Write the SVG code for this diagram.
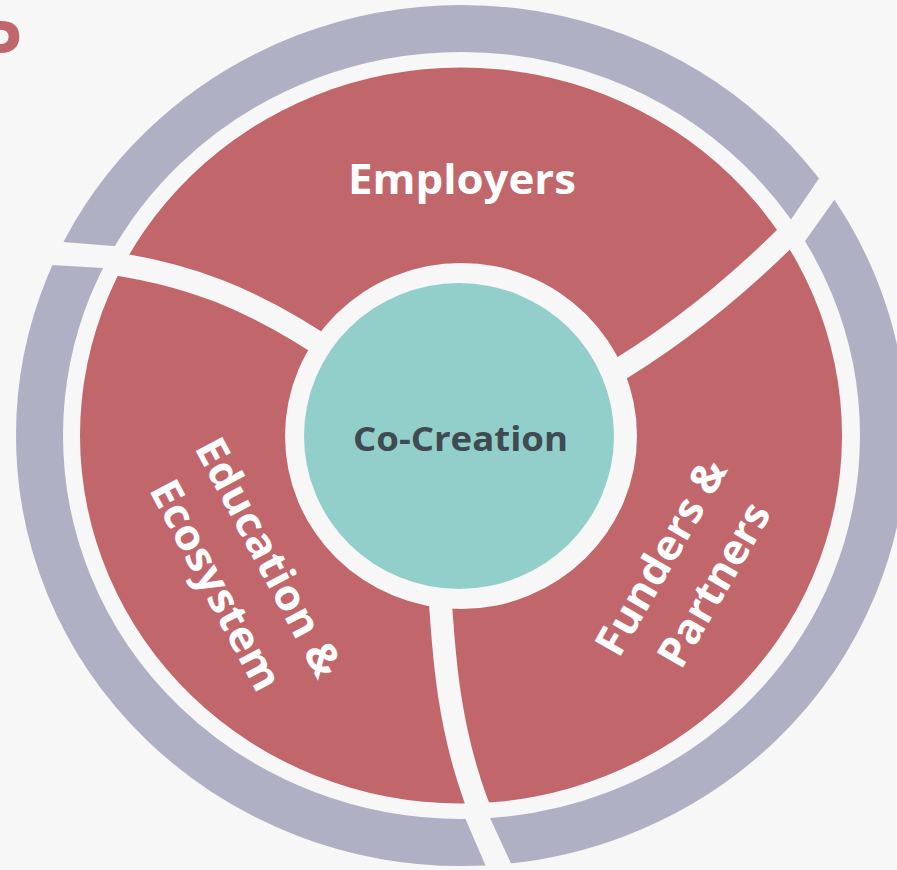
<svg xmlns="http://www.w3.org/2000/svg" xmlns:xlink="http://www.w3.org/1999/xlink" width="897" height="870" viewBox="0 0 897 870">
  <style>
    .bg { fill: #f7f7f7; }
    .seg { fill: #c1666b; }
    .label { font-family: "Open Sans", "Liberation Sans", sans-serif; font-weight: 700; fill: #ffffff; font-size: 42px; text-anchor: middle; }
    .center-label { font-family: "Open Sans", "Liberation Sans", sans-serif; font-weight: 700; fill: #3f4a51; font-size: 34px; text-anchor: middle; }
    .divider { fill: none; stroke: #f7f7f7; stroke-width: 23; stroke-linecap: butt; }
    .gap { fill: #f7f7f7; }
    .outer { fill: none; stroke: #afb0c3; stroke-width: 47; }
  </style>
  <defs>
    <path id="redRing" fill-rule="evenodd" d="M 80,435.5 A 381 368 0 1 0 842,435.5 A 381 368 0 1 0 80,435.5 Z M 285,436 A 176 173 0 1 0 637,436 A 176 173 0 1 0 285,436 Z"/>
    <clipPath id="clipEmp">
      <path d="M 459,436 L 345,361 C 255,298 185,271.8 95,261 L -50,250 L -50,-50 L 950,-50 L 950,150 L 805,218 C 750,275 680,335 605,378 Z"/>
    </clipPath>
    <clipPath id="clipEdu">
      <path d="M 459,436 L 345,361 C 255,298 185,271.8 95,261 L -50,250 L -50,950 L 520,950 L 488,830 C 447.5,740 442.5,650 438,560 Z"/>
    </clipPath>
    <clipPath id="clipFun">
      <path d="M 459,436 L 605,378 C 680,335 750,275 805,218 L 950,150 L 950,950 L 520,950 L 488,830 C 447.5,740 442.5,650 438,560 Z"/>
    </clipPath>
  </defs>

  <rect class="bg" x="0" y="0" width="897" height="870"/>

  <g id="employers">
    <use xlink:href="#redRing" href="#redRing" class="seg" clip-path="url(#clipEmp)"/>
    <text class="label" x="462" y="194" textLength="228" lengthAdjust="spacingAndGlyphs">Employers</text>
  </g>

  <g id="education-ecosystem">
    <use xlink:href="#redRing" href="#redRing" class="seg" clip-path="url(#clipEdu)"/>
    <text class="label" transform="translate(256,564) rotate(62)" textLength="264" lengthAdjust="spacingAndGlyphs">Education &amp;</text>
    <text class="label" transform="translate(203,592) rotate(62)" textLength="232" lengthAdjust="spacingAndGlyphs">Ecosystem</text>
  </g>

  <g id="funders-partners">
    <use xlink:href="#redRing" href="#redRing" class="seg" clip-path="url(#clipFun)"/>
    <text class="label" transform="translate(673.5,564.5) rotate(-60)" textLength="219" lengthAdjust="spacingAndGlyphs">Funders &amp;</text>
    <text class="label" transform="translate(726.5,592) rotate(-60)" textLength="182" lengthAdjust="spacingAndGlyphs">Partners</text>
  </g>

  <g id="dividers">
    <path class="divider" d="M 345,361 C 255,298 185,271.8 95,261"/>
    <path class="divider" d="M 600,381 C 680,335 750,275 805,218"/>
    <path class="divider" d="M 438,560 C 442.5,650 447.5,740 488,830"/>
  </g>

  <g id="outer-ring">
    <ellipse class="outer" cx="461.5" cy="435.5" rx="422" ry="407"/>
    <polygon class="gap" points="0,237 116,246.2 116,268.8 0,261.9"/>
    <polygon class="gap" points="786.4,226.3 828.5,164.6 844.5,185.6 801.4,246.3"/>
    <polygon class="gap" points="462.5,812 487.2,812 516.4,875 489.6,875"/>
  </g>

  <g id="co-creation">
    <ellipse cx="459" cy="436" rx="155" ry="153" fill="#93cfca"/>
    <text class="center-label" x="460.5" y="451" textLength="215" lengthAdjust="spacingAndGlyphs">Co-Creation</text>
  </g>

  <text x="-21.6" y="71" font-family="Open Sans, Liberation Sans, sans-serif" font-weight="700" font-size="70" fill="#c1666b">P</text>
</svg>
